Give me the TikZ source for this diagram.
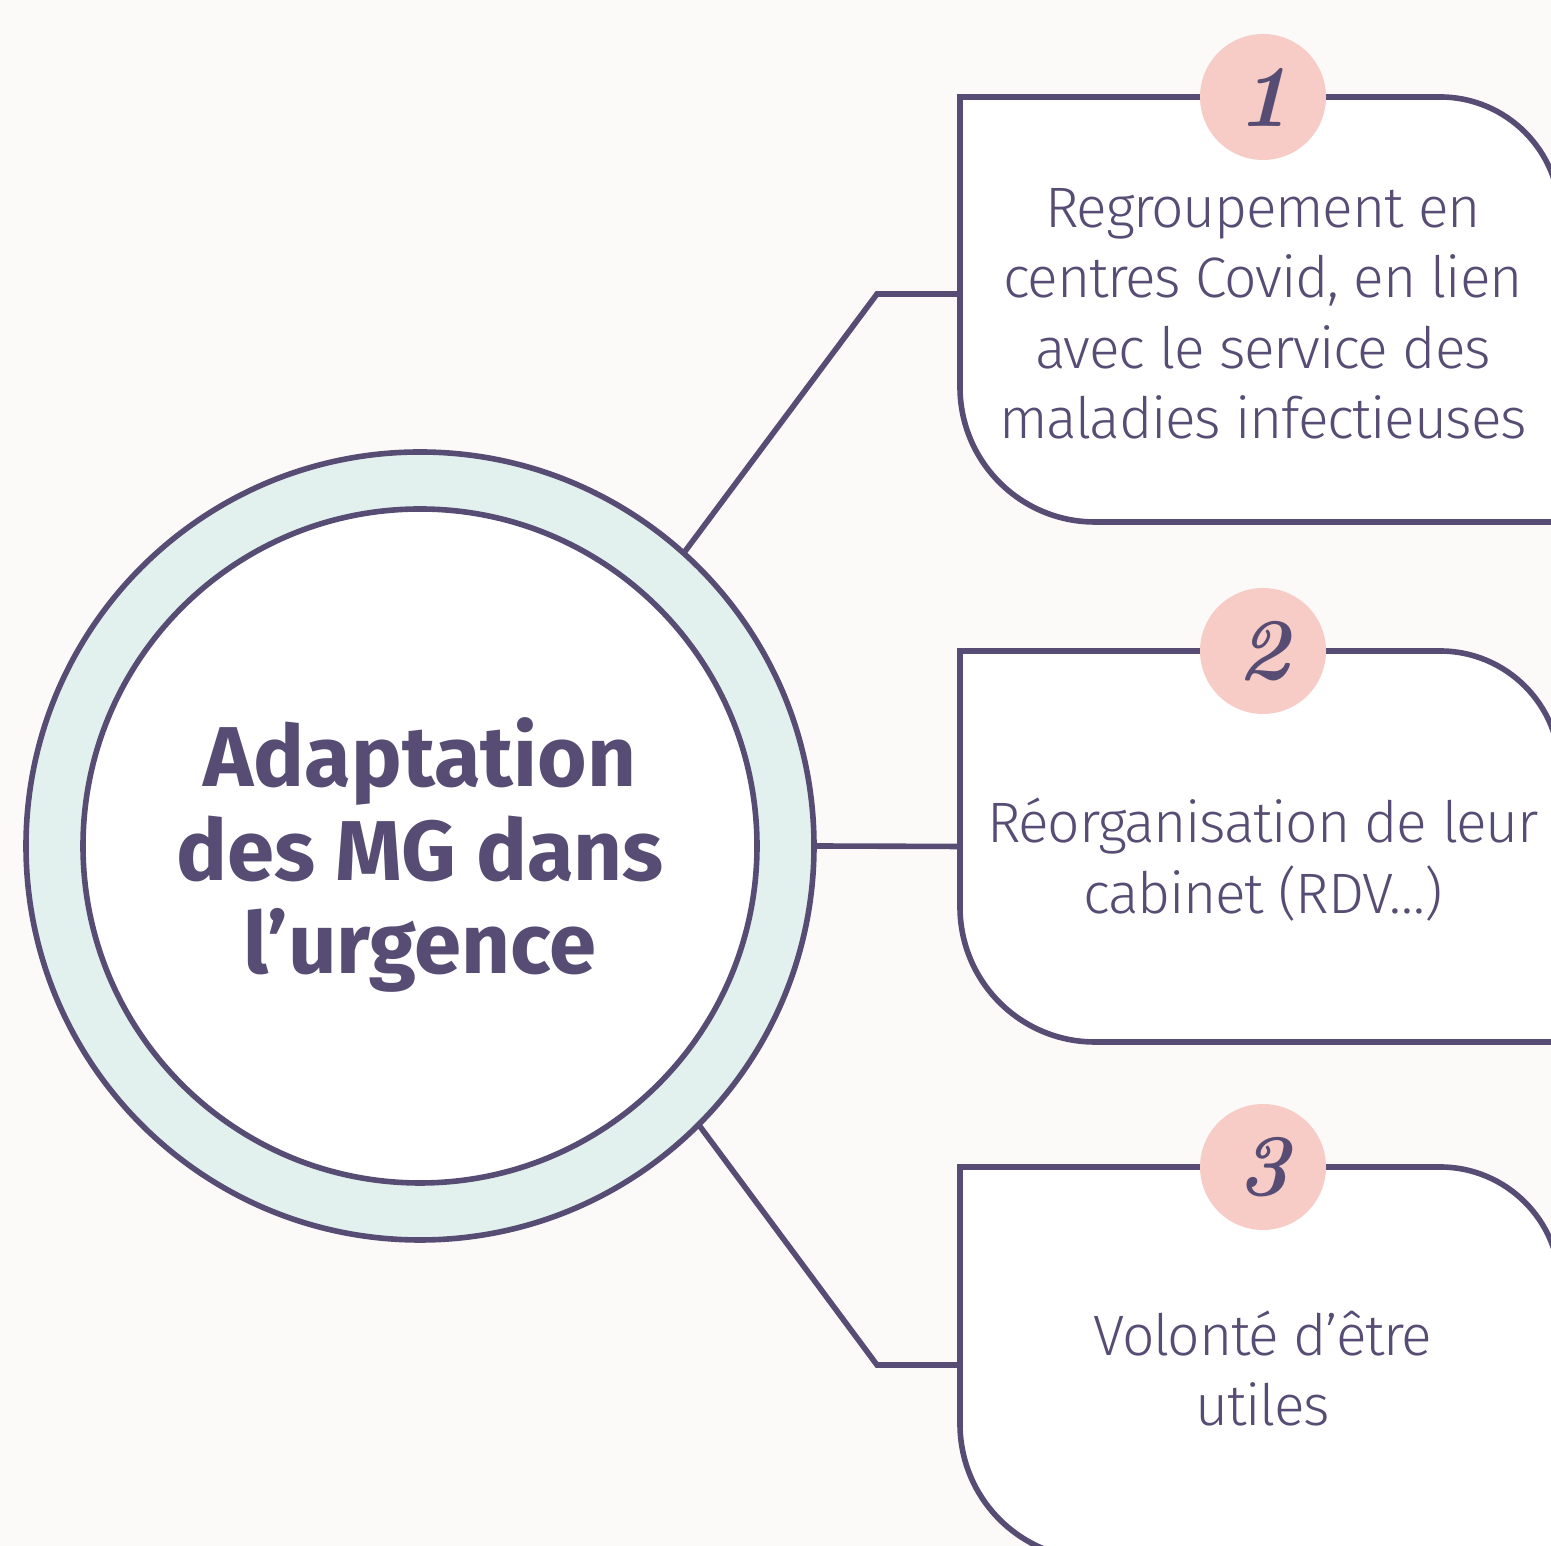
\documentclass[tikz,border=0pt]{standalone}
\usepackage{fontspec}
\setsansfont{Fira Sans}
\newfontfamily\lightsans{Fira Sans Light}[LetterSpace=-2.3]
\usepackage{xcolor}
\usetikzlibrary{
    positioning,
    backgrounds
}

\definecolor{ink}{HTML}{574D74}
\definecolor{ringfill}{HTML}{E3F1EE}
\definecolor{badgepink}{HTML}{F8CCC6}
\definecolor{paper}{HTML}{FBFAF8}

\begin{document}
\begin{tikzpicture}[
    x=1pt,
    y=1pt,
    font=\sffamily,
    hub/.style={
        circle,
        draw=ink,
        line width=5.6pt,
        fill=ringfill,
        minimum size=788pt,
        inner sep=0pt,
        outer sep=0pt
    },
    core/.style={
        circle,
        draw=ink,
        line width=5.6pt,
        fill=white,
        minimum size=674pt,
        inner sep=0pt,
        outer sep=0pt,
        align=center,
        text=ink,
        text depth=0pt,
        font=\sffamily\bfseries\fontsize{85}{93.5}\selectfont
    },
    card/.style={
        rectangle,
        minimum width=600pt,
        inner sep=0pt,
        outer sep=0pt
    },
    cardtext/.style={
        align=center,
        inner sep=0pt,
        text=ink,
        text depth=0pt,
        font=\lightsans\fontsize{57}{70.5}\selectfont
    },
    cardline/.style={
        draw=ink,
        line width=5.6pt,
        fill=white
    },
    badge/.style={
        circle,
        fill=badgepink,
        minimum size=126pt,
        inner sep=0pt,
        text=ink,
        font=\rmfamily\bfseries\itshape\fontsize{88}{88}\selectfont
    },
    link/.style={
        draw=ink,
        line width=5.6pt
    }
]

\useasboundingbox (0,0) rectangle (1551,1546);

\begin{scope}[on background layer]
\fill[paper] (0,0) rectangle (1551,1546);
\end{scope}

% =========================================================
% Central theme
% =========================================================
\node[hub] (hub) at (420,700) {};
\node[core] (core) at (hub.center)
{Adaptation\\des MG dans\\l’urgence};

% =========================================================
% Cards
% =========================================================
\node[card, minimum height=425pt] (b1) at (1260,1236.5) {};
\node[card, minimum height=391pt] (b2) at (1260,699.5) {};
\node[card, minimum height=392pt] (b3) at (1260,183) {};

\node[cardtext] (t1) at ([xshift=3pt, yshift=-4pt]b1.center)
{Regroupement en\\centres Covid, en lien\\avec le service des\\maladies infectieuses};

\node[cardtext] (t2) at ([xshift=3pt, yshift=-9pt]b2.center)
{Réorganisation de leur\\cabinet (RDV…)};

\node[cardtext] (t3) at ([xshift=3pt, yshift=-5pt]b3.center)
{Volonté d’être\\utiles};

% =========================================================
% Card outlines
% =========================================================
\begin{scope}[on background layer]
\draw[cardline] (b1.south east) -- ([xshift=135pt]b1.south west)
    arc[start angle=270, end angle=180, radius=135pt] -- (b1.north west)
    -- ([xshift=-120pt]b1.north east)
    arc[start angle=90, end angle=0, radius=120pt] -- cycle;

\draw[cardline] (b2.south east) -- ([xshift=135pt]b2.south west)
    arc[start angle=270, end angle=180, radius=135pt] -- (b2.north west)
    -- ([xshift=-120pt]b2.north east)
    arc[start angle=90, end angle=0, radius=120pt] -- cycle;

\draw[cardline] (b3.south east) -- ([xshift=135pt]b3.south west)
    arc[start angle=270, end angle=180, radius=135pt] -- (b3.north west)
    -- ([xshift=-120pt]b3.north east)
    arc[start angle=90, end angle=0, radius=120pt] -- cycle;
\end{scope}

% =========================================================
% Number badges
% =========================================================
\node[badge] (n1) at ([xshift=3pt]b1.north) {1};
\node[badge] (n2) at ([xshift=3pt]b2.north) {2};
\node[badge] (n3) at ([xshift=3pt]b3.north) {3};

% =========================================================
% Connectors
% =========================================================
\coordinate (e1) at (877,1252);
\coordinate (e3) at (877,181);

\draw[link] (hub.48) -- (e1) -- (b1.west |- e1);
\draw[link] (hub.east) -- (b2.west);
\draw[link] (hub.-45) -- (e3) -- (b3.west |- e3);

\end{tikzpicture}
\end{document}
